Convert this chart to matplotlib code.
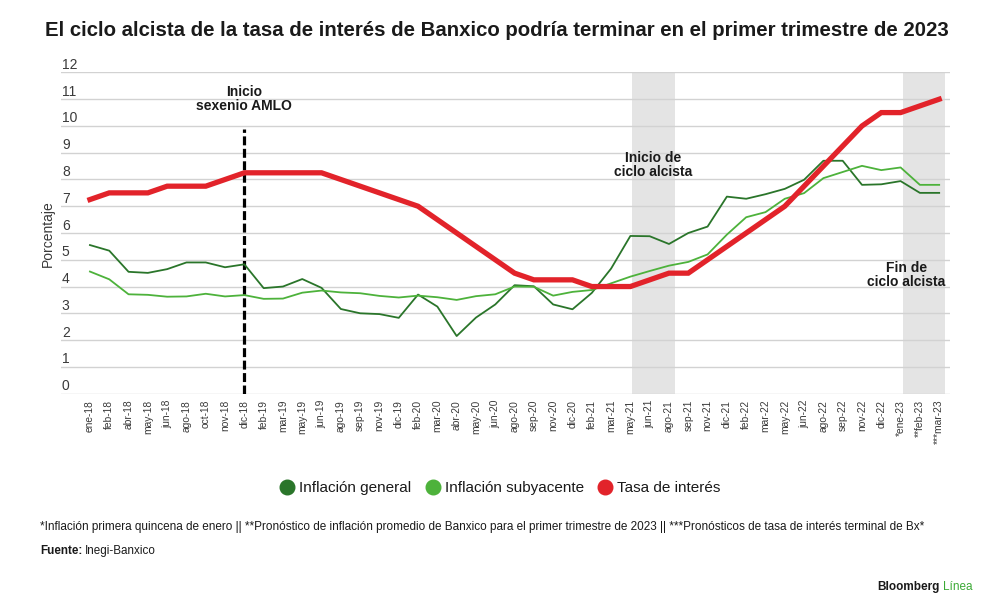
import numpy as np
import matplotlib.pyplot as plt
import matplotlib as mpl
from matplotlib.lines import Line2D

DKGREEN = "#2A752A"; LTGREEN = "#4DB23B"; RED = "#E2232A"
BAND = "#E4E4E4"; GRID = "#D2D2D2"; TXT = "#1A1A1A"; GREYTXT = "#3A3A3A"
mpl.rcParams.update({"font.family": ["Liberation Sans", "DejaVu Sans"], "text.color": TXT})

meses = ["ene-18","feb-18","abr-18","may-18","jun-18","ago-18","oct-18","nov-18","dic-18",
         "feb-19","mar-19","may-19","jun-19","ago-19","sep-19","nov-19","dic-19",
         "feb-20","mar-20","abr-20","may-20","jun-20","ago-20","sep-20","nov-20","dic-20",
         "feb-21","mar-21","may-21","jun-21","ago-21","sep-21","nov-21","dic-21",
         "feb-22","mar-22","may-22","jun-22","ago-22","sep-22","nov-22","dic-22",
         "*ene-23","**feb-23","***mar-23"]
inflacion_general = [5.55,5.34,4.55,4.51,4.65,4.90,4.90,4.72,4.83,
                     3.94,4.00,4.28,3.95,3.16,3.00,2.97,2.83,
                     3.70,3.25,2.15,2.84,3.33,4.05,4.01,3.33,3.15,
                     3.76,4.67,5.89,5.88,5.59,6.00,6.24,7.36,
                     7.28,7.45,7.65,7.99,8.70,8.70,7.80,7.82,
                     7.94,7.50,7.50]
inflacion_subyacente = [4.56,4.27,3.71,3.69,3.62,3.63,3.73,3.63,3.68,
                        3.54,3.55,3.77,3.85,3.78,3.75,3.65,3.59,
                        3.66,3.60,3.50,3.64,3.71,4.00,3.99,3.66,3.80,
                        3.87,4.12,4.37,4.58,4.78,4.92,5.20,5.94,
                        6.59,6.78,7.28,7.49,8.05,8.28,8.51,8.35,
                        8.45,7.80,7.80]
tasa_interes = [7.25,7.50,7.50,7.50,7.75,7.75,7.75,8.00,8.25,
                8.25,8.25,8.25,8.25,8.00,7.75,7.50,7.25,
                7.00,6.50,6.00,5.50,5.00,4.50,4.25,4.25,4.25,
                4.00,4.00,4.00,4.25,4.50,4.50,5.00,5.50,
                6.00,6.50,7.00,7.75,8.50,9.25,10.00,10.50,
                10.50,10.75,11.00]
bandas = [("may-21", "ago-21"), ("*ene-23", "***mar-23")]
inicio_amlo = "dic-18"

x = np.arange(len(meses))
fig = plt.figure(figsize=(10, 6.14), dpi=100)
ax = fig.add_axes([0.061, 0.359, 0.889, 0.523])

for a, b in bandas:
    ax.axvspan(meses.index(a) + 0.1, meses.index(b) + 0.3, color=BAND, lw=0, zorder=0)
for v in range(13):
    ax.axhline(v, color=GRID, lw=1, zorder=1)
    ax.text(0.001, v + 0.13, str(v), transform=ax.get_yaxis_transform(),
            ha="left", va="baseline", fontsize=10, color=GREYTXT)

ax.vlines(meses.index(inicio_amlo), 0, 9.9, color="black", lw=2.3,
          linestyles=(0, (2.8, 1.1)), zorder=3)
ax.plot(x, inflacion_general, color=DKGREEN, lw=1.3, zorder=4)
ax.plot(x, inflacion_subyacente, color=LTGREEN, lw=1.3, zorder=4)
ax.plot(x, tasa_interes, color=RED, lw=3.8, zorder=5, solid_joinstyle="miter")

ax.set_xlim(-1.5, 44.56); ax.set_ylim(0, 12)
ax.set_xticks(x); ax.set_xticklabels(meses, rotation=90, fontsize=7.4, color=GREYTXT)
ax.tick_params(axis="x", length=0, pad=4.5)
ax.set_yticks([])
for s in ax.spines.values(): s.set_visible(False)

ax.text(8, 11.0, "Inicio\nsexenio AMLO", ha="center", va="center", fontsize=10,
        fontweight="bold", linespacing=1.0)
ax.text(29.2, 8.54, "Inicio de\nciclo alcista", ha="center", va="center", fontsize=10,
        fontweight="bold", linespacing=1.0)
ax.text(42.3, 4.44, "Fin de\nciclo alcista", ha="center", va="center", fontsize=10,
        fontweight="bold", linespacing=1.0)

fig.text(0.048, 0.62, "Porcentaje", rotation=90, ha="center", va="center", fontsize=10, color=GREYTXT)
fig.text(0.4965, 0.951, "El ciclo alcista de la tasa de interés de Banxico podría terminar en el primer trimestre de 2023",
         ha="center", va="center", fontsize=14.7, fontweight="bold")

handles = [Line2D([], [], ls="none", marker="o", ms=10.5, color=c) for c in (DKGREEN, LTGREEN, RED)]
fig.legend(handles, ["Inflación general", "Inflación subyacente", "Tasa de interés"],
           loc="center", bbox_to_anchor=(0.5, 0.205), ncol=3, frameon=False, fontsize=11,
           handletextpad=0.3, columnspacing=0.9, handlelength=1.0)

fig.text(0.04, 0.142, "*Inflación primera quincena de enero || **Pronóstico de inflación promedio de Banxico "
         "para el primer trimestre de 2023 || ***Pronósticos de tasa de interés terminal de Bx*",
         ha="left", va="center", fontsize=8.5, color=TXT)
t = fig.text(0.04, 0.103, "Fuente:", ha="left", va="center", fontsize=8.4, fontweight="bold")
ax.annotate("Inegi-Banxico", xy=(1, 0.5), xycoords=t, xytext=(2, 0), textcoords="offset points",
            ha="left", va="center", fontsize=8.4, annotation_clip=False)
t2 = fig.text(0.972, 0.044, "Línea", ha="right", va="center", fontsize=8.5, color="#3BA935")
ax.annotate("Bloomberg", xy=(0, 0.5), xycoords=t2, xytext=(-2, 0), textcoords="offset points",
            ha="right", va="center", fontsize=8.5, fontweight="bold", annotation_clip=False)

fig.savefig("out.png", dpi=100, facecolor="white")
